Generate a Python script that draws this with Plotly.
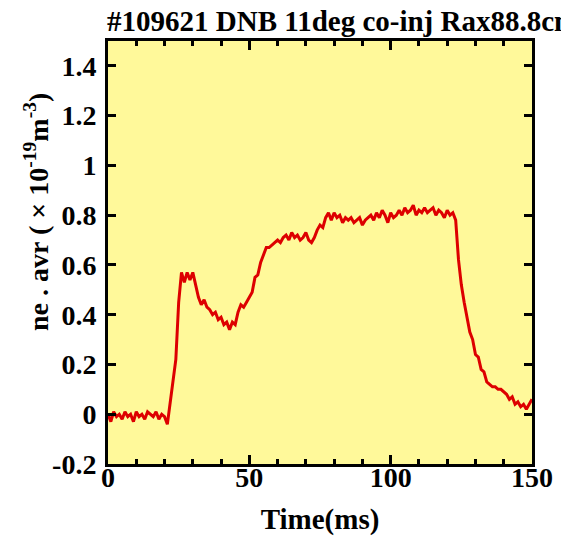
import plotly.graph_objects as go

time_ms = list(range(0, 151))
ne_avr = [
    0.00, -0.03, 0.01, -0.01, 0.00, -0.02, 0.01, -0.01, 0.00, -0.03,
    0.01, -0.01, 0.00, -0.02, 0.01, 0.00, -0.01, 0.01, -0.02, 0.00,
    -0.01, -0.04, 0.05, 0.14, 0.22, 0.45, 0.57, 0.53, 0.57, 0.54,
    0.57, 0.52, 0.47, 0.44, 0.46, 0.43, 0.42, 0.40, 0.41, 0.38,
    0.39, 0.36, 0.37, 0.34, 0.37, 0.36, 0.41, 0.44, 0.43, 0.45,
    0.47, 0.49, 0.55, 0.56, 0.61, 0.64, 0.67, 0.67, 0.68, 0.69,
    0.70, 0.69, 0.71, 0.72, 0.70, 0.73, 0.71, 0.72, 0.70, 0.71,
    0.73, 0.70, 0.69, 0.71, 0.74, 0.76, 0.75, 0.79, 0.81, 0.78,
    0.81, 0.79, 0.80, 0.77, 0.79, 0.78, 0.79, 0.77, 0.78, 0.79,
    0.76, 0.78, 0.79, 0.80, 0.78, 0.81, 0.79, 0.82, 0.80, 0.77,
    0.81, 0.79, 0.80, 0.82, 0.80, 0.83, 0.81, 0.82, 0.84, 0.80,
    0.82, 0.81, 0.83, 0.81, 0.82, 0.83, 0.80, 0.82, 0.81, 0.79,
    0.82, 0.80, 0.81, 0.78, 0.62, 0.52, 0.45, 0.39, 0.33, 0.30,
    0.24, 0.23, 0.18, 0.17, 0.13, 0.12, 0.11, 0.11, 0.10, 0.10,
    0.09, 0.08, 0.06, 0.07, 0.04, 0.05, 0.03, 0.04, 0.02, 0.04,
    0.06,
]

x_tickvals = [0, 50, 100, 150]
x_ticktext = ["0", "50", "100", "150"]
y_tickvals = [-0.2, 0, 0.2, 0.4, 0.6, 0.8, 1.0, 1.2, 1.4]
y_ticktext = ["-0.2", "0", "0.2", "0.4", "0.6", "0.8", "1", "1.2", "1.4"]

title_text = "#109621 DNB 11deg co-inj Rax88.8cm"
x_title = "Time(ms)"
y_title = "ne . avr ( × 10<sup>-19</sup>m<sup>-3</sup>)"

font_family = "Liberation Serif"
tick_size = 28
label_size = 29

fig = go.Figure()
fig.add_trace(go.Scatter(
    x=time_ms, y=ne_avr, mode="lines",
    line=dict(color="#dd0000", width=3),
    showlegend=False,
))

axis_common = dict(
    showline=True, linecolor="black", linewidth=3, mirror="ticks",
    ticks="inside", tickcolor="black", tickwidth=3,
    showgrid=False, zeroline=False, automargin=False,
    tickfont=dict(family=font_family, size=tick_size, color="black", weight="bold"),
)

fig.update_xaxes(
    range=[0, 150], tickvals=x_tickvals, ticktext=x_ticktext, ticklen=9,
    minor=dict(ticks="inside", dtick=10, tick0=0, ticklen=5, tickwidth=2.5, tickcolor="black", showgrid=False),
    title=dict(text=x_title, font=dict(family=font_family, size=label_size, color="black", weight="bold"), standoff=23),
    ticklabelstandoff=-14,
    **axis_common,
)
fig.update_yaxes(
    range=[-0.2, 1.5], tickvals=y_tickvals, ticktext=y_ticktext, ticklen=8,
    ticklabelstandoff=3,
    **axis_common,
)

fig.add_annotation(
    text=y_title, textangle=-90, showarrow=False,
    xref="paper", yref="paper", x=(36 - 108) / 424, y=(464 - 212) / 423,
    xanchor="center", yanchor="middle",
    font=dict(family=font_family, size=tick_size, color="black", weight="bold"),
)

fig.update_layout(
    width=561, height=536,
    margin=dict(l=108, r=29, t=41, b=72),
    plot_bgcolor="#fff99a", paper_bgcolor="white",
    title=dict(
        text=title_text, xref="container", yref="container",
        x=107 / 561, xanchor="left", y=1 - 21 / 536, yanchor="middle",
        font=dict(family=font_family, size=label_size, color="black", weight="bold"),
        automargin=False,
    ),
)

fig.write_html("out.html")
